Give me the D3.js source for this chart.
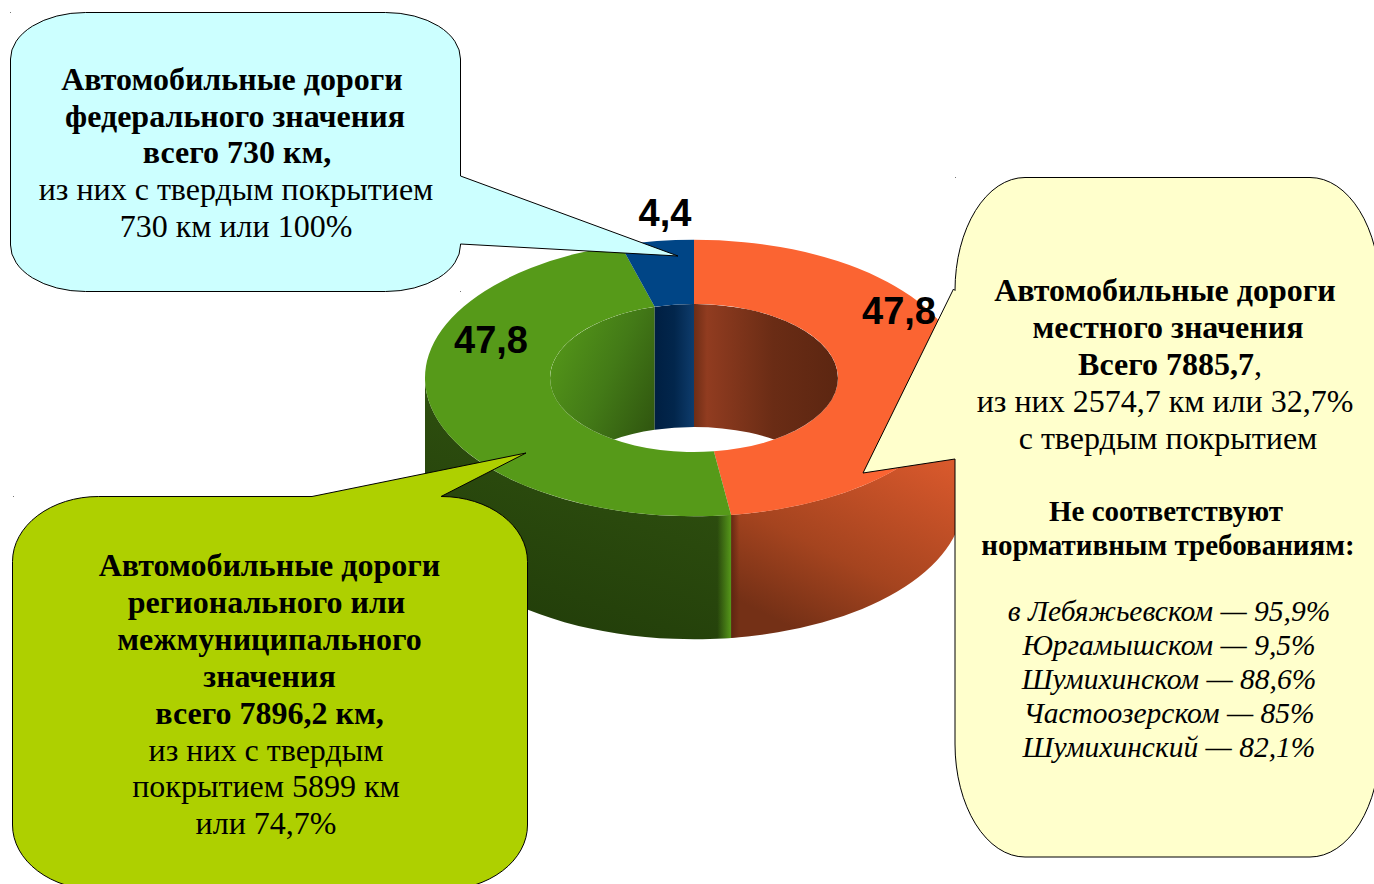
<!DOCTYPE html>
<html>
<head>
<meta charset="utf-8">
<script src="https://cdnjs.cloudflare.com/ajax/libs/d3/7.8.5/d3.min.js"></script>
<style>
  body { margin: 0; background: #fff; }
  svg { display: block; }
  .callout { stroke: #000; stroke-width: 1; }
  .txt { font-family: "Liberation Serif", serif; text-anchor: middle; fill: #000; }
  .val { font-family: "Liberation Sans", sans-serif; font-weight: bold; font-size: 38px; text-anchor: middle; fill: #000; }
</style>
</head>
<body>
<div id="chart"></div>
<script>
// shares of the road network, clockwise from the top
var categories = ["local", "regional", "federal"];
var shares = [47.8, 47.8, 4.4];
var shareLabels = ["47,8", "47,8", "4,4"];

var federalBold = ["Автомобильные дороги", "федерального значения", "всего 730 км,"];
var federalPlain = ["из них с твердым покрытием", "730 км или 100%"];

var regionalBold = ["Автомобильные дороги", "регионального или", "межмуниципального", "значения", "всего 7896,2 км,"];
var regionalPlain = ["из них с твердым", "покрытием 5899 км", "или 74,7%"];

var localBold = ["Автомобильные дороги", "местного значения", "Всего 7885,7"];
var localPlain = ["из них 2574,7 км или 32,7%", "с твердым покрытием"];
var normBold = ["Не соответствуют", "нормативным требованиям:"];
var districts = ["в Лебяжьевском — 95,9%", "Юргамышском — 9,5%", "Шумихинском — 88,6%", "Частоозерском — 85%", "Шумихинский — 82,1%"];

// chart geometry
var width = 1374, height = 884;
var cx = 694, cy = 378;
var outerR = 269, innerR = 144, squash = 0.514, depth = 123;
var PI = Math.PI;

var svg = d3.select("#chart").append("svg")
  .attr("width", width)
  .attr("height", height);
var defs = svg.append("defs");

function addGradient(id, x1, y1, x2, y2, stops) {
  var g = defs.append("linearGradient").attr("id", id)
    .attr("x1", x1).attr("y1", y1).attr("x2", x2).attr("y2", y2);
  stops.forEach(function (s) {
    g.append("stop").attr("offset", s[0]).attr("stop-color", s[1]).attr("stop-opacity", s[2] === undefined ? 1 : s[2]);
  });
}

var topColor = d3.scaleOrdinal().domain(categories).range(["#fb6432", "#569a19", "#004586"]);

// outer wall
addGradient("outer-local", 0.8, 0, 0.35, 1, [[0, "#ee6431"], [0.3, "#d0552a"], [0.7, "#a5441f"], [1, "#743016"]]);
addGradient("outer-regional", 0.95, 0, 0.55, 1, [[0, "#426c19"], [0.45, "#2c4c0e"], [1, "#233f0a"]]);
addGradient("edge-local", 0, 0, 1, 0, [[0, "#5a2210", 0.8], [0.035, "#5a2210", 0]]);
addGradient("edge-regional", 0, 0, 1, 0, [[0.955, "#56981a", 0], [1, "#56981a", 1]]);
// inner wall
addGradient("inner-local", 0, 0, 1, 0, [[0, "#6e2d15"], [0.09, "#913c20"], [0.55, "#6a2c15"], [1, "#5c2611"]]);
addGradient("inner-regional", 0, 0.1, 1, 0.95, [[0, "#569a19"], [0.45, "#437a17"], [1, "#28470c"]]);
addGradient("inner-federal", 0, 0, 1, 0, [[0, "#001f42"], [0.5, "#02264c"], [1, "#0e3c6c"]]);

var pie = d3.pie().sort(null).value(function (d) { return d; });
var slices = pie(shares);

function rimX(a, r) { return cx + r * Math.sin(a); }
function rimY(a, r) { return cy - r * squash * Math.cos(a); }

// band between a rim arc and the same arc pushed down by the depth
function wallPath(a0, a1, r) {
  var ry = r * squash, big = a1 - a0 > PI ? 1 : 0;
  return "M" + rimX(a0, r) + "," + rimY(a0, r) +
    "A" + r + "," + ry + " 0 " + big + " 1 " + rimX(a1, r) + "," + rimY(a1, r) +
    "L" + rimX(a1, r) + "," + (rimY(a1, r) + depth) +
    "A" + r + "," + ry + " 0 " + big + " 0 " + rimX(a0, r) + "," + (rimY(a0, r) + depth) + "Z";
}

// part of a slice lying inside an angle range, or null
function clampAngles(d, lo, hi) {
  var a0 = Math.max(d.startAngle, lo), a1 = Math.min(d.endAngle, hi);
  return a1 > a0 ? [a0, a1] : null;
}

defs.append("clipPath").attr("id", "hole")
  .append("ellipse")
  .attr("cx", cx).attr("cy", cy)
  .attr("rx", innerR).attr("ry", innerR * squash);

// front of the outer wall
var outerWalls = svg.append("g");
slices.forEach(function (d, i) {
  var part = clampAngles(d, PI / 2, 3 * PI / 2);
  if (!part) return;
  var path = wallPath(part[0], part[1], outerR);
  outerWalls.append("path").attr("d", path).attr("fill", "url(#outer-" + categories[i] + ")");
  outerWalls.append("path").attr("d", path).attr("fill", "url(#edge-" + categories[i] + ")");
});

// top face of the ring
var arc = d3.arc().innerRadius(innerR).outerRadius(outerR);
svg.append("g")
  .attr("transform", "translate(" + cx + "," + cy + ") scale(1," + squash + ")")
  .selectAll("path")
  .data(slices)
  .enter()
  .append("path")
  .attr("d", arc)
  .attr("fill", function (d, i) { return topColor(categories[i]); });

// back of the hole wall, seen through the hole
var innerWalls = svg.append("g").attr("clip-path", "url(#hole)");
slices.forEach(function (d, i) {
  [[-PI / 2, PI / 2], [3 * PI / 2, 5 * PI / 2]].forEach(function (range) {
    var part = clampAngles(d, range[0], range[1]);
    if (!part) return;
    innerWalls.append("path")
      .attr("d", wallPath(part[0], part[1], innerR))
      .attr("fill", "url(#inner-" + categories[i] + ")");
  });
});

// rounded box with a pointed tail, tail given as three points on one side
function calloutPath(x0, y0, x1, y1, rx, ry, tail, side) {
  var p = "M" + (x0 + rx) + "," + y0;
  function t(i) { return "L" + tail[i][0] + "," + tail[i][1]; }
  if (side === "top") p += t(0) + t(1) + t(2);
  p += "L" + (x1 - rx) + "," + y0 + "A" + rx + "," + ry + " 0 0 1 " + x1 + "," + (y0 + ry);
  if (side === "right") p += t(0) + t(1) + t(2);
  p += "L" + x1 + "," + (y1 - ry) + "A" + rx + "," + ry + " 0 0 1 " + (x1 - rx) + "," + y1;
  p += "L" + (x0 + rx) + "," + y1 + "A" + rx + "," + ry + " 0 0 1 " + x0 + "," + (y1 - ry);
  if (side === "left") p += "L" + x0 + "," + tail[0][1] + t(1) + t(2);
  p += "L" + x0 + "," + (y0 + ry) + "A" + rx + "," + ry + " 0 0 1 " + (x0 + rx) + "," + y0 + "Z";
  return p;
}

svg.append("path").attr("class", "callout").attr("fill", "#ccffff")
  .attr("d", calloutPath(10.5, 12.5, 460.5, 291.5, 75, 46.5, [[460.5, 176], [678, 256], [460.5, 244]], "right"));

svg.append("path").attr("class", "callout").attr("fill", "#aed000")
  .attr("d", calloutPath(12.5, 496.5, 527.5, 890, 86, 65, [[312, 496.5], [526, 453], [441, 496.5]], "top"));

svg.append("path").attr("class", "callout").attr("fill", "#ffffcc")
  .attr("d", calloutPath(955, 177.5, 1380, 857, 70, 113, [[955, 459], [863, 473], [953.5, 289]], "left"));

// small corner marks left by the source shapes
var marks = [[10, 12], [460, 291], [13, 496], [955, 177]];
svg.selectAll("rect.mark").data(marks).enter().append("rect")
  .attr("class", "mark")
  .attr("x", function (d) { return d[0]; })
  .attr("y", function (d) { return d[1]; })
  .attr("width", 1).attr("height", 1).attr("fill", "#777");

// nudge is a per line x shift, the source lines carry stray spaces
function textBlock(lines, x, y, step, size, weight, style, nudge) {
  return lines.map(function (line, i) {
    return svg.append("text").attr("class", "txt")
      .attr("x", x + (nudge ? nudge[i] : 0)).attr("y", y + i * step)
      .attr("font-size", size)
      .attr("font-weight", weight)
      .attr("font-style", style || "normal")
      .text(line);
  });
}

textBlock(federalBold, 232, 90, 36.7, 32, "bold", null, [0, 3, 5]);
textBlock(federalPlain, 236, 200, 36.7, 32, "normal");

textBlock(regionalBold, 269.5, 576, 36.9, 32, "bold", null, [0, -3, 0, 0, 0]);
textBlock(regionalPlain, 266, 760.5, 36.9, 32, "normal");

var localLines = textBlock(localBold, 1165, 301, 36.8, 32, "bold", null, [0, 3, 5]);
localLines[2].append("tspan").attr("font-weight", "normal").text(",");
textBlock(localPlain, 1165, 412, 37, 32, "normal", null, [0, 3]);
textBlock(normBold, 1166, 521, 34, 29, "bold", null, [0, 2]);
textBlock(districts, 1169, 621, 34, 29.5, "normal", "italic");

// value labels sit by hand on their slices, as in the source
var labelX = [899, 491, 665], labelY = [324, 353, 226];
svg.selectAll("text.val")
  .data(shareLabels)
  .enter()
  .append("text")
  .attr("class", "val")
  .attr("x", function (d, i) { return labelX[i]; })
  .attr("y", function (d, i) { return labelY[i]; })
  .text(function (d) { return d; });
</script>
</body>
</html>
